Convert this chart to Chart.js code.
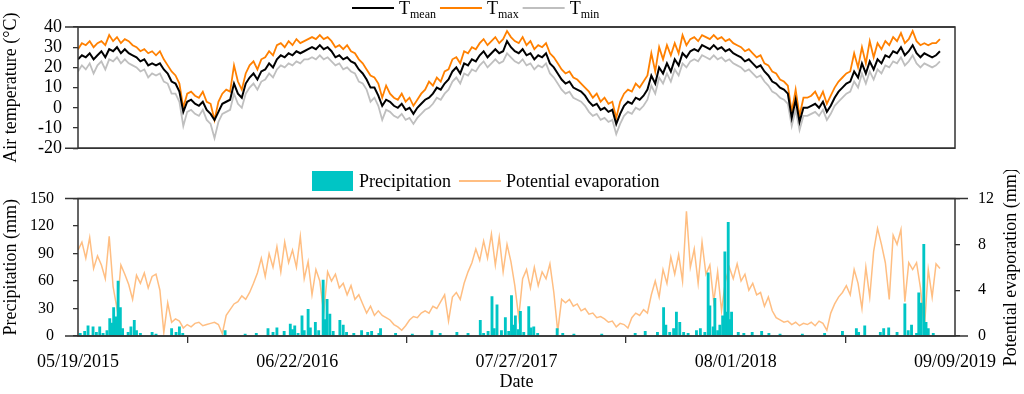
<!DOCTYPE html>
<html>
<head>
<meta charset="utf-8">
<script src="https://cdn.jsdelivr.net/npm/chart.js@4.4.0/dist/chart.umd.min.js"></script>
<style>
  html, body { margin: 0; padding: 0; background: #fff; }
  #wrap { position: relative; width: 1024px; height: 394px; }
  canvas { position: absolute; left: 0; }
  #tempCanvas { top: 0; }
  #rainCanvas { top: 170px; }
</style>
</head>
<body>
<div id="wrap">
  <canvas id="tempCanvas" width="1024" height="170"></canvas>
  <canvas id="rainCanvas" width="1024" height="224"></canvas>
</div>
<script>
var WEEK = 7;
var LAST_DAY = 1574;
var date_labels = ['05/19/2015', '06/22/2016', '07/27/2017', '08/01/2018', '09/09/2019'];

var t_mean = [
  24, 26, 25, 27, 24, 26, 28, 25, 29, 28,
  30, 27, 29, 27, 26, 25, 23, 24, 21, 22,
  21, 22, 19, 17, 13, 12, 8, -2, 3, 4,
  2, 1, 3, -1, -3, -6, -2, 2, 3, 4,
  12, 7, 5, 12, 15, 17, 14, 18, 19, 22,
  20, 24, 26, 25, 27, 26, 28, 27, 28, 29,
  30, 29, 31, 29, 30, 28, 25, 26, 24, 25,
  23, 22, 19, 17, 14, 10, 10, 6, 1, 4,
  3, 1, 0, 2, -1, 0, -3, 0, 2, 4,
  5, 7, 10, 9, 12, 14, 18, 20, 17, 22,
  21, 24, 23, 26, 28, 25, 27, 29, 27, 28,
  33, 30, 28, 27, 29, 26, 27, 24, 26, 25,
  27, 22, 20, 17, 14, 12, 13, 10, 9, 8,
  6, 3, 1, 2, -1, 0, -2, -1, -8, -3,
  1, 3, 2, 5, 4, 6, 9, 16, 12, 20,
  17, 22, 18, 24, 21, 27, 25, 28, 29, 28,
  31, 30, 29, 31, 29, 30, 28, 29, 27, 26,
  25, 23, 24, 22, 20, 21, 18, 16, 13, 12,
  10, 9, 7, -5, 4, -7, 0, 0, 1, 2,
  0, 3, -2, 1, 5, 8, 10, 12, 13, 18,
  15, 22, 17, 23, 19, 24, 22, 26, 25, 28,
  27, 30, 26, 28, 31, 27, 25, 27, 26, 25,
  26, 28
];
var t_max = [
  29, 32, 31, 33, 30, 32, 33, 31, 36, 33,
  35, 32, 34, 33, 31, 30, 28, 29, 27, 28,
  26, 28, 24, 21, 18, 16, 12, 0, 7, 8,
  6, 5, 8, 3, 2, -6, 3, 7, 9, 8,
  21, 13, 9, 17, 21, 23, 19, 24, 25, 28,
  26, 31, 32, 30, 33, 31, 34, 32, 33, 34,
  35, 34, 36, 34, 35, 33, 30, 31, 29, 31,
  28, 27, 24, 22, 19, 16, 15, 12, 5, 11,
  7, 5, 4, 7, 3, 5, 1, 4, 7, 9,
  13, 11, 15, 13, 18, 19, 24, 25, 22, 28,
  27, 30, 29, 32, 34, 31, 33, 35, 32, 34,
  38, 35, 33, 32, 35, 31, 33, 29, 31, 30,
  32, 27, 25, 22, 19, 17, 18, 15, 14, 12,
  10, 8, 5, 7, 3, 5, 2, 3, -5, 3,
  7, 9, 8, 12, 10, 13, 16, 27, 18, 30,
  24, 31, 26, 32, 27, 36, 31, 34, 35, 33,
  36, 35, 34, 36, 34, 35, 33, 34, 32, 31,
  30, 28, 29, 27, 25, 26, 22, 21, 18, 17,
  14, 13, 11, -2, 9, -4, 5, 5, 6, 8,
  4, 8, 2, 6, 10, 13, 15, 17, 18, 27,
  20, 30, 22, 33, 25, 32, 29, 33, 31, 35,
  33, 37, 32, 34, 38, 33, 31, 32, 31, 32,
  32, 34
];
var t_min = [
  18, 21, 19, 22, 17, 21, 23, 19, 24, 23,
  25, 22, 24, 22, 21, 20, 18, 19, 15, 17,
  16, 17, 13, 12, 7, 7, 3, -9, -2, -1,
  -3, -4, -1, -6, -8, -15, -7, -3, -2, -1,
  7, 2, 0, 7, 10, 12, 9, 13, 14, 17,
  15, 19, 21, 20, 22, 21, 23, 22, 24, 24,
  25, 24, 26, 24, 25, 23, 21, 22, 19, 20,
  18, 17, 13, 12, 9, 3, 5, 1, -6, -1,
  -2, -4, -5, -3, -6, -5, -8, -5, -3, -1,
  0, 2, 5, 4, 7, 9, 13, 15, 12, 17,
  16, 19, 18, 21, 23, 20, 22, 24, 22, 23,
  27, 25, 23, 22, 24, 21, 22, 19, 21, 20,
  22, 17, 15, 12, 9, 7, 8, 5, 4, 3,
  1, -2, -4, -3, -6, -5, -7, -6, -13, -8,
  -4, -2, -3, 0, -1, 1, 4, 11, 7, 15,
  12, 17, 13, 19, 16, 22, 20, 23, 24, 23,
  26, 25, 24, 26, 24, 25, 23, 24, 22, 21,
  20, 18, 19, 17, 15, 16, 13, 11, 8, 7,
  5, 4, 2, -9, -1, -11, -4, -4, -3, -2,
  -4, -1, -6, -3, 1, 3, 5, 7, 8, 13,
  10, 17, 12, 18, 14, 19, 17, 21, 20, 23,
  22, 25, 21, 23, 26, 22, 20, 22, 21, 20,
  21, 23
];
var pet = [
  7.5, 8.2, 6.8, 8.6, 5.9, 7.0, 6.2, 5.0, 8.7, 4.3,
  2.4, 6.2, 5.4, 4.5, 3.2, 5.3, 4.6, 5.5, 4.2, 5.2,
  5.4, 4.0, 0.3, 2.9, 1.2, 1.5, 1.3, 0.7, 1.0, 0.8,
  1.1, 1.2, 0.9, 1.0, 1.1, 1.2, 1.0, 0.2, 1.8, 2.3,
  2.8, 3.0, 3.5, 3.2, 3.8, 4.6, 5.5, 6.8, 5.2, 7.2,
  6.0, 7.8, 5.6, 8.2, 6.4, 7.5, 6.0, 8.7, 5.0, 6.5,
  3.6, 5.8, 4.8, 2.0, 5.6, 4.8, 5.4, 4.2, 4.6, 3.6,
  4.4, 3.2, 3.6, 2.8, 2.0, 2.6, 1.8, 2.2, 1.8, 1.6,
  1.4, 1.0, 0.8, 0.5, 0.9, 1.4, 1.7, 1.6, 2.0, 2.2,
  2.0, 2.6, 2.4, 3.0, 3.6, 1.3, 3.4, 3.8, 3.2, 4.6,
  5.6, 6.4, 7.6, 6.6, 8.3, 6.8, 8.9, 6.2, 8.6, 5.6,
  8.0, 6.5, 4.4, 1.6, 5.0, 5.8, 4.2, 6.0, 4.4, 5.6,
  5.0, 6.3, 3.8, 0.4, 3.2, 2.9, 3.2, 2.6, 2.8, 2.2,
  2.4, 1.9, 2.0, 1.6, 1.7, 1.5, 1.2, 1.3, 0.8, 1.1,
  1.0, 0.7, 1.6, 2.0, 1.8, 2.3, 2.0, 3.6, 4.8, 3.4,
  5.8, 4.6, 6.9, 5.4, 7.1, 4.8, 10.9, 6.0, 7.6, 4.6,
  8.2, 5.4, 6.2, 3.0, 5.6, 2.2, 4.8, 6.0, 5.0, 6.3,
  4.8, 5.4, 4.0, 4.6, 3.6, 3.8, 2.6, 3.4, 2.2, 1.6,
  1.4, 1.2, 1.3, 1.0, 1.2, 0.9, 1.1, 1.0, 1.2, 0.9,
  1.3, 1.1, 0.5, 2.0, 2.8, 3.4, 3.8, 4.4, 3.6, 5.8,
  4.6, 2.4, 6.0, 3.4, 7.4, 9.4, 8.0, 6.4, 3.2, 8.8,
  8.0, 9.3, 3.0, 6.4, 5.8, 6.4, 4.2, 0.6, 5.8, 3.4,
  6.3, 5.9
];
// rainy days (day number) and their totals
var rain_days = [
  4, 12, 18, 27, 33, 39, 45, 52, 57, 61, 64, 68, 72, 76, 80, 90, 95, 101, 105, 112, 133, 140, 168, 176, 182, 188, 264, 300,
  320, 341, 350, 357, 370, 381, 385, 389, 395, 402, 406, 413, 417, 426, 432, 440, 444, 447, 452, 458, 470, 476, 482, 495, 509, 520, 527, 540, 543, 570, 600, 635, 650,
  680, 700, 722, 728, 736, 743, 747, 752, 760, 767, 773, 778, 781, 785, 790, 794, 800, 809, 813, 818, 825, 860, 870, 890, 940, 1000, 1018, 1040,
  1051, 1055, 1062, 1069, 1074, 1080, 1087, 1095, 1110, 1117, 1125, 1131, 1134, 1140, 1143, 1148, 1152, 1157, 1161, 1164, 1167, 1170, 1173, 1185, 1195, 1210, 1227, 1240, 1260, 1300,
  1340, 1372, 1397, 1401, 1412, 1440, 1446, 1455, 1470, 1484, 1490, 1496, 1505, 1509, 1513, 1518, 1522, 1526, 1535
];
var rain_mm = [
  3, 5, 11, 10, 4, 10, 3, 6, 19, 14, 31, 21, 60, 31, 8, 4, 10, 17, 6, 3, 4, 2, 8, 4, 10, 3, 6, 2,
  3, 8, 4, 9, 5, 13, 7, 11, 3, 22, 6, 29, 9, 15, 6, 61, 18, 40, 24, 5, 17, 12, 4, 3, 6, 4, 5, 3, 8, 3, 2, 6, 3,
  4, 3, 17, 3, 5, 43, 8, 34, 6, 20, 5, 44, 12, 22, 7, 27, 4, 32, 9, 10, 3, 8, 3, 2, 2, 3, 5, 4,
  31, 12, 4, 8, 26, 15, 4, 3, 6, 8, 4, 69, 33, 10, 41, 6, 12, 22, 92, 26, 124, 18, 26, 4, 3, 4, 5, 3, 2, 2,
  3, 5, 8, 4, 11, 4, 8, 9, 4, 35, 6, 12, 3, 47, 36, 100, 15, 8, 3
];

var FONT = '"Liberation Serif", "Times New Roman", serif';
Chart.defaults.font.family = FONT;
Chart.defaults.color = '#000';
Chart.defaults.animation = false;

function weekly(values) {
    let pts = [];
    for (let i = 0; i < values.length; i++)
        pts.push({x: i * WEEK, y: values[i]});
    return pts;
}

function rain_points() {
    let pts = [];
    for (let i = 0; i < rain_days.length; i++)
        pts.push({x: rain_days[i], y: rain_mm[i]});
    return pts;
}

function date_ticks(axis) {
    axis.ticks = date_labels.map(function (d, i) {
        return {value: i * LAST_DAY / (date_labels.length - 1)};
    });
}

// box around the plot, top/bottom lines run on past the tick marks
var frame_plugin = {
    id: 'frame',
    afterDraw: function (chart, args, opts) {
        let a = chart.chartArea, ctx = chart.ctx;
        ctx.save();
        ctx.strokeStyle = '#333';
        ctx.lineWidth = 1.5;
        ctx.strokeRect(a.left, a.top, a.right - a.left, a.bottom - a.top);
        ctx.beginPath();
        ctx.moveTo(a.left - opts.extLeft, a.top);
        ctx.lineTo(a.right + opts.extRight, a.top);
        ctx.moveTo(a.left - opts.extLeft, a.bottom);
        ctx.lineTo(a.right + opts.extRight, a.bottom);
        ctx.stroke();
        ctx.restore();
    }
};

var temp_legend = {
    id: 'tempLegend',
    afterDraw: function (chart, args, opts) {
        let ctx = chart.ctx;
        let x = opts.x;
        ctx.save();
        chart.data.datasets.forEach(function (ds) {
            ctx.strokeStyle = ds.borderColor;
            ctx.lineWidth = 2;
            ctx.beginPath();
            ctx.moveTo(x, opts.y);
            ctx.lineTo(x + 42, opts.y);
            ctx.stroke();
            x += 47;
            ctx.fillStyle = '#000';
            ctx.textBaseline = 'alphabetic';
            ctx.font = '18px ' + FONT;
            ctx.fillText('T', x, opts.y + 6);
            x += ctx.measureText('T').width;
            ctx.font = '12px ' + FONT;
            ctx.fillText(ds.sub, x, opts.y + 10);
            x += ctx.measureText(ds.sub).width + 4;
        });
        ctx.restore();
    }
};

var rain_legend = {
    id: 'rainLegend',
    afterDraw: function (chart, args, opts) {
        let ctx = chart.ctx;
        let x = opts.x;
        ctx.save();
        ctx.font = '18px ' + FONT;
        ctx.textBaseline = 'middle';
        chart.data.datasets.forEach(function (ds) {
            if (ds.type === 'bar') {
                ctx.fillStyle = ds.backgroundColor;
                ctx.fillRect(x, opts.y - 10, 41, 20);
            } else {
                ctx.strokeStyle = ds.borderColor;
                ctx.lineWidth = 2;
                ctx.beginPath();
                ctx.moveTo(x, opts.y);
                ctx.lineTo(x + 42, opts.y);
                ctx.stroke();
            }
            x += 47;
            ctx.fillStyle = '#000';
            ctx.fillText(ds.label, x, opts.y + 1);
            x += ctx.measureText(ds.label).width + 8;
        });
        // right axis title reads bottom to top like the left one
        let a = chart.chartArea;
        ctx.translate(opts.rightTitleX, (a.top + a.bottom) / 2);
        ctx.rotate(-Math.PI / 2);
        ctx.textAlign = 'center';
        ctx.fillText(opts.rightTitle, 0, 0);
        ctx.restore();
    }
};

new Chart(document.getElementById('tempCanvas'), {
    type: 'line',
    data: {
        datasets: [
            {label: 'Tmean', sub: 'mean', data: weekly(t_mean), borderColor: '#000000', borderWidth: 2},
            {label: 'Tmax', sub: 'max', data: weekly(t_max), borderColor: '#ff8000', borderWidth: 1.8},
            {label: 'Tmin', sub: 'min', data: weekly(t_min), borderColor: '#bfbfbf', borderWidth: 1.8}
        ]
    },
    options: {
        responsive: false,
        devicePixelRatio: 1,
        elements: {point: {radius: 0}, line: {tension: 0}},
        layout: {padding: {top: 27, right: 69, bottom: 4, left: 0}},
        scales: {
            x: {type: 'linear', min: 0, max: LAST_DAY, display: false},
            y: {
                min: -20, max: 40,
                ticks: {stepSize: 10, autoSkip: false, font: {size: 18}, padding: 11},
                grid: {drawOnChartArea: false, drawTicks: true, tickLength: 5, color: '#333', lineWidth: 1.3},
                border: {display: false},
                title: {display: true, text: 'Air temperature (°C)', font: {size: 18}, padding: {top: 0, bottom: 0}},
                afterFit: function (axis) { axis.width = 78; }
            }
        },
        plugins: {
            legend: {display: false},
            tooltip: {enabled: false},
            frame: {extLeft: 13, extRight: 0},
            tempLegend: {x: 352, y: 8}
        }
    },
    plugins: [frame_plugin, temp_legend]
});

new Chart(document.getElementById('rainCanvas'), {
    type: 'bar',
    data: {
        datasets: [
            {type: 'bar', label: 'Precipitation', data: rain_points(), yAxisID: 'y',
             backgroundColor: '#00c5c5', barThickness: 2.2, grouped: false},
            {type: 'line', label: 'Potential evaporation', data: weekly(pet), yAxisID: 'y2',
             borderColor: '#ffbe82', borderWidth: 1.5, pointRadius: 0, tension: 0}
        ]
    },
    options: {
        responsive: false,
        devicePixelRatio: 1,
        layout: {padding: {top: 26, right: 0, bottom: 0, left: 0}},
        scales: {
            x: {
                type: 'linear', min: 0, max: LAST_DAY, offset: false,
                afterBuildTicks: date_ticks,
                ticks: {
                    autoSkip: false, maxRotation: 0, font: {size: 18}, padding: 8,
                    callback: function (value, index) { return date_labels[index]; }
                },
                grid: {drawOnChartArea: false, drawTicks: true, tickLength: 7, color: '#333', lineWidth: 1.3},
                border: {display: false},
                title: {display: true, text: 'Date', font: {size: 18}, padding: {top: 0, bottom: 1}},
                afterFit: function (axis) { axis.height = 58; }
            },
            y: {
                position: 'left', min: 0, max: 150,
                ticks: {stepSize: 30, autoSkip: false, font: {size: 16}, padding: 19},
                grid: {drawOnChartArea: false, drawTicks: true, tickLength: 5, color: '#333', lineWidth: 1.3},
                border: {display: false},
                title: {display: true, text: 'Precipitation (mm)', font: {size: 18}, padding: {top: 0, bottom: 0}},
                afterFit: function (axis) { axis.width = 78; }
            },
            y2: {
                position: 'right', min: 0, max: 12,
                ticks: {stepSize: 4, autoSkip: false, font: {size: 16}, padding: 18},
                grid: {drawOnChartArea: false, drawTicks: true, tickLength: 5, color: '#333', lineWidth: 1.3},
                border: {display: false},
                afterFit: function (axis) { axis.width = 69; }
            }
        },
        plugins: {
            legend: {display: false},
            tooltip: {enabled: false},
            frame: {extLeft: 13, extRight: 13},
            rainLegend: {x: 312, y: 11, rightTitle: 'Potential evaporation (mm)', rightTitleX: 1011}
        }
    },
    plugins: [frame_plugin, rain_legend]
});
</script>
</body>
</html>
